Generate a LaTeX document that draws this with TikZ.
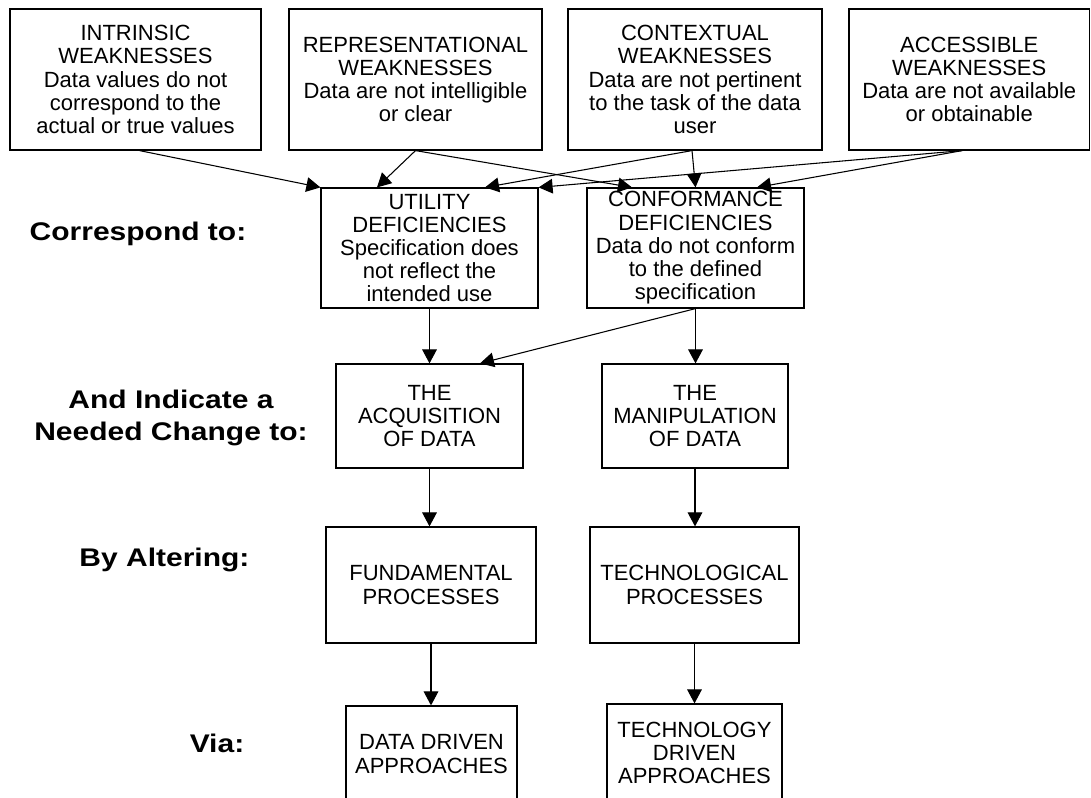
\documentclass[tikz,border=0pt]{standalone}
\usepackage{fontspec}
\usepackage{graphicx}
\setmainfont{Liberation Sans}
\usetikzlibrary{arrows.meta}
% one drawing unit = one pixel of the sheet
\newcommand{\pxu}{0.75pt}
\begin{document}
\begin{tikzpicture}[x=0.75pt,y=-0.75pt,
  box/.style 2 args={draw=black, line width=0.9pt, inner sep=0pt, align=center,
    minimum width=#1*\pxu, minimum height=#2*\pxu,
    font=\fontsize{16.5}{17.4}\selectfont},
  arr/.style={line width=0.8pt, -{Triangle[length=10.5pt,width=11pt]}},
  lbl/.style={inner sep=0pt, align=center}]
\useasboundingbox (0,0) rectangle (1091,798);
\fill[white] (0,0) rectangle (1091,798);

% weaknesses
\node[box={251}{141}] (b1) at (135.5,79.5)
  {INTRINSIC\\WEAKNESSES\\Data values do not\\correspond to the\\actual or true values};
\node[box={253}{141}] (b2) at (415.5,79.5)
  {REPRESENTATIONAL\\WEAKNESSES\\Data are not intelligible\\or clear};
\node[box={254}{141}] (b3) at (695,79.5)
  {CONTEXTUAL\\WEAKNESSES\\Data are not pertinent\\to the task of the data\\user};
\node[box={240.5}{141}] (b4) at (969.25,79.5)
  {ACCESSIBLE\\WEAKNESSES\\Data are not available\\or obtainable};

% deficiencies
\node[box={217}{120}] (u) at (429.5,248)
  {UTILITY\\DEFICIENCIES\\Specification does\\not reflect the\\intended use};
\node[box={217}{120}] (c) at (695.5,248)
  {CONFORMANCE\\DEFICIENCIES\\Data do not conform\\to the defined\\specification};

% needed changes
\node[box={187}{104}] (acq) at (429.5,416) {THE\\ACQUISITION\\OF DATA};
\node[box={186}{104}] (man) at (695,416) {THE\\MANIPULATION\\OF DATA};

% processes
\node[box={210}{116}] (fun) at (431,585) {FUNDAMENTAL\\PROCESSES};
\node[box={209}{116}] (tec) at (694.5,585) {TECHNOLOGICAL\\PROCESSES};

% approaches
\node[box={171}{96}] (dd) at (431.5,754) {DATA DRIVEN\\APPROACHES};
\node[box={175}{98}] (td) at (694.5,753) {TECHNOLOGY\\DRIVEN\\APPROACHES};

% row captions
\node[lbl, anchor=base] (l1) at (138,241)
  {\scalebox{1}[0.85]{\fontsize{22.5}{27}\selectfont\bfseries Correspond to:}};
\node[lbl] (l2) at (171,418)
  {\scalebox{1}[0.85]{\fontsize{22.5}{28}\selectfont\bfseries
   \begin{tabular}{@{}c@{}}And Indicate a\\Needed Change to:\end{tabular}}};
\node[lbl, anchor=base] (l3) at (164.5,566)
  {\scalebox{1}[0.85]{\fontsize{22.5}{27}\selectfont\bfseries By Altering:}};
\node[lbl, anchor=base] (l4) at (217,752)
  {\scalebox{1}[0.85]{\fontsize{22.5}{27}\selectfont\bfseries Via:}};

% weaknesses -> deficiencies
\draw[arr] ([xshift=4*\pxu]b1.south) -- (u.north west);
\draw[arr] (b2.south) -- ([xshift=-52.5*\pxu]u.north);
\draw[arr] (b2.south) -- ([xshift=-63.5*\pxu]c.north);
\draw[arr] ([xshift=-3*\pxu]b3.south) -- ([xshift=55.5*\pxu]u.north);
\draw[arr] ([xshift=-3*\pxu]b3.south) -- (c.north);
\draw[arr] ([xshift=-7*\pxu]b4.south) -- (u.north east);
\draw[arr] ([xshift=-7*\pxu]b4.south) -- ([xshift=61.5*\pxu]c.north);

% deficiencies -> needed changes
\draw[arr] (u.south) -- (u.south |- acq.north);
\draw[arr] (c.south) -- ([xshift=50.5*\pxu]acq.north);
\draw[arr] (c.south) -- (c.south |- man.north);

% needed changes -> processes -> approaches
\draw[arr] (acq.south) -- (acq.south |- fun.north);
\draw[arr] (man.south) -- (man.south |- tec.north);
\draw[arr] (fun.south) -- (fun.south |- dd.north);
\draw[arr] (tec.south) -- (tec.south |- td.north);
\end{tikzpicture}
\end{document}
